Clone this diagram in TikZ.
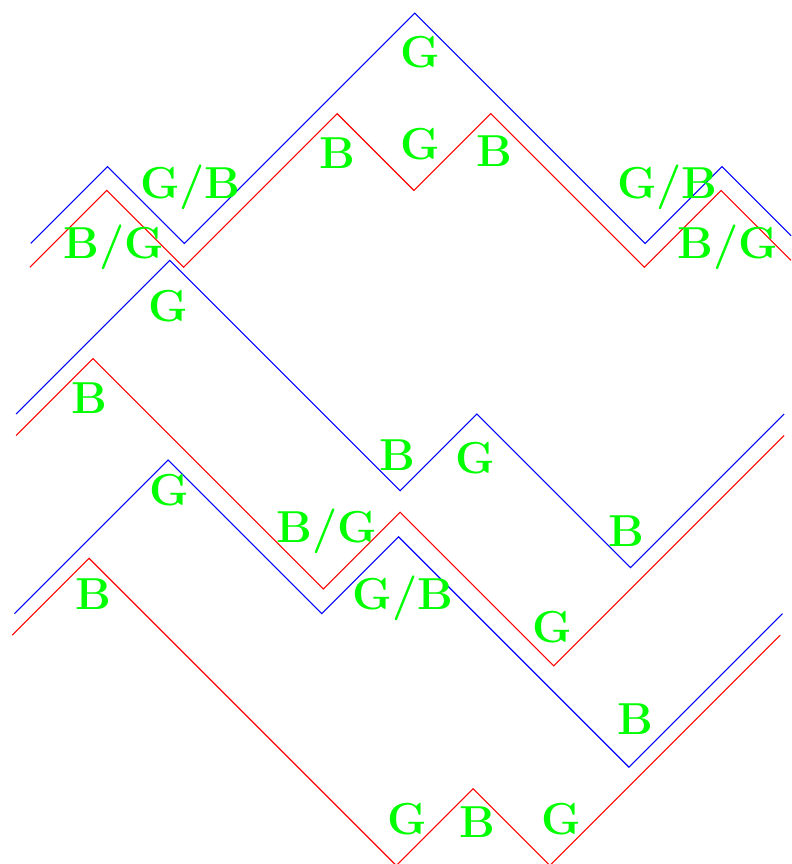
\documentclass[tikz,border=0pt]{standalone}
\usepackage{tikz}

\begin{document}
\begin{tikzpicture}[lbl/.style={anchor=base, text=green, font=\fontsize{16.6}{19}\selectfont\bfseries}]
  \useasboundingbox (0, 0) rectangle (10.30, 11.25);

  % Top pair
  \draw[blue] (0.40, 8.08) -- (1.40, 9.08) -- (2.40, 8.08) -- (5.40, 11.08) -- (8.40, 8.08) -- (9.40, 9.08) -- (10.30, 8.18);
  \draw[red] (0.39, 7.77) -- (1.39, 8.77) -- (2.39, 7.77) -- (4.39, 9.77) -- (5.39, 8.77) -- (6.39, 9.77) -- (8.39, 7.77) -- (9.39, 8.77) -- (10.30, 7.86);
  \node[lbl] (topG) at (5.47, 10.37) {G};
  \node[lbl] (topB1) at (4.40, 9.06) {B};
  \node[lbl] (topG2) at (5.47, 9.17) {G};
  \node[lbl] (topB2) at (6.44, 9.08) {B};
  \node[lbl] (topGB1) at (2.48, 8.66) {G/B};
  \node[lbl] (topBG1) at (1.48, 7.89) {B/G};
  \node[lbl] (topGB2) at (8.69, 8.66) {G/B};
  \node[lbl] (topBG2) at (9.48, 7.89) {B/G};

  % Middle pair
  \draw[blue] (0.21, 5.86) -- (2.21, 7.86) -- (5.21, 4.86) -- (6.21, 5.86) -- (8.21, 3.86) -- (10.21, 5.86);
  \draw[red] (0.21, 5.58) -- (1.21, 6.58) -- (4.21, 3.58) -- (5.21, 4.58) -- (7.21, 2.58) -- (10.21, 5.58);
  \node[lbl] (midG1) at (2.19, 7.07) {G};
  \node[lbl] (midB1) at (1.17, 5.87) {B};
  \node[lbl] (midB2) at (5.17, 5.13) {B};
  \node[lbl] (midG2) at (6.19, 5.09) {G};
  \node[lbl] (midB3) at (8.16, 4.13) {B};
  \node[lbl] (midBG) at (4.26, 4.18) {B/G};

  % Bottom pair
  \draw[blue] (0.19, 3.26) -- (2.19, 5.26) -- (4.19, 3.26) -- (5.19, 4.26) -- (8.19, 1.26) -- (10.19, 3.26);
  \draw[red] (0.16, 2.98) -- (1.16, 3.98) -- (5.16, -0.02) -- (6.16, 0.98) -- (7.16, -0.02) -- (10.16, 2.98);
  \node[lbl] (botG1) at (2.21, 4.67) {G};
  \node[lbl] (botB1) at (1.22, 3.32) {B};
  \node[lbl] (botGB) at (5.25, 3.32) {G/B};
  \node[lbl] (botG2) at (7.19, 2.88) {G};
  \node[lbl] (botB2) at (8.28, 1.69) {B};
  \node[lbl] (botG3) at (5.30, 0.38) {G};
  \node[lbl] (botB3) at (6.22, 0.35) {B};
  \node[lbl] (botG4) at (7.31, 0.38) {G};
\end{tikzpicture}
\end{document}
